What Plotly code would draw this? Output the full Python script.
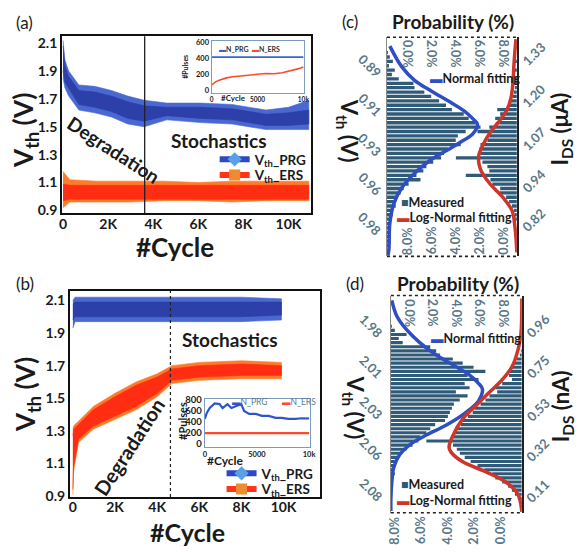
import plotly.graph_objects as go

W, H = 580, 552
FONT = "Lato"

# ---------------- Panel (a): Vth vs cycle (envelopes) ----------------
a_prg_cycle = [0, 80, 250, 700, 1400, 2150, 2870, 3600, 4600, 6100, 7500, 9000, 10000, 10900]
a_prg_hi    = [2.12, 1.98, 1.90, 1.80, 1.79, 1.76, 1.72, 1.69, 1.67, 1.67, 1.66, 1.62, 1.64, 1.69]
a_prg_lo    = [1.85, 1.78, 1.72, 1.62, 1.60, 1.57, 1.52, 1.50, 1.55, 1.53, 1.52, 1.48, 1.48, 1.48]
a_prg_chi   = [2.08, 1.94, 1.86, 1.76, 1.75, 1.72, 1.68, 1.65, 1.64, 1.64, 1.63, 1.59, 1.60, 1.62]
a_prg_clo   = [1.90, 1.82, 1.77, 1.66, 1.64, 1.61, 1.56, 1.54, 1.58, 1.56, 1.55, 1.51, 1.51, 1.52]

a_ers_cycle = [0, 300, 1500, 3000, 4500, 6000, 7500, 9000, 10900]
a_ers_hi    = [1.18, 1.12, 1.11, 1.11, 1.11, 1.10, 1.11, 1.11, 1.11]
a_ers_lo    = [0.92, 0.96, 0.96, 0.96, 0.97, 0.97, 0.96, 0.97, 0.97]
a_ers_chi   = [1.09, 1.08, 1.08, 1.08, 1.08, 1.08, 1.08, 1.08, 1.08]
a_ers_clo   = [0.97, 0.98, 0.98, 0.98, 0.98, 0.98, 0.98, 0.98, 0.98]
a_boundary = 3620

a_ins_cycle = [0, 400, 900, 1600, 2300, 3200, 4100, 5000, 5900, 6800, 7700, 8300, 8800, 9500, 10000]
a_ins_ers   = [71, 110, 133, 160, 175, 188, 194, 205, 215, 212, 224, 240, 256, 276, 297]
a_ins_prg_cycle = [0, 10000]
a_ins_prg   = [420, 420]

# ---------------- Panel (b) ----------------
b_prg_cycle = [0, 100, 2000, 4000, 6000, 8000, 9900]
b_prg_hi    = [2.10, 2.12, 2.12, 2.12, 2.12, 2.12, 2.11]
b_prg_lo    = [1.93, 1.97, 1.97, 1.97, 1.97, 1.97, 1.98]
b_prg_chi   = [2.08, 2.09, 2.09, 2.09, 2.09, 2.09, 2.09]
b_prg_clo   = [1.98, 2.00, 2.00, 2.00, 2.00, 2.00, 2.01]

b_ers_cycle = [0, 30, 270, 970, 2000, 3000, 4000, 4700, 6000, 8000, 9900]
b_ers_hi    = [1.31, 1.33, 1.36, 1.45, 1.53, 1.60, 1.65, 1.70, 1.72, 1.73, 1.72]
b_ers_lo    = [0.91, 1.05, 1.23, 1.31, 1.37, 1.43, 1.51, 1.59, 1.61, 1.62, 1.62]
b_ers_chi   = [1.27, 1.31, 1.34, 1.43, 1.51, 1.58, 1.63, 1.68, 1.70, 1.71, 1.70]
b_ers_clo   = [0.94, 1.08, 1.25, 1.33, 1.39, 1.45, 1.53, 1.61, 1.63, 1.64, 1.64]
b_boundary = 4630

b_ins_cycle = [0, 190, 470, 940, 1420, 1700, 2170, 2550, 3020, 3490, 3770, 4250, 4900,
               5470, 6130, 6790, 7360, 8020, 8680, 9300, 10000]
b_ins_prg   = [460, 566, 655, 740, 726, 655, 726, 655, 691, 726, 602, 549, 549,
               513, 513, 478, 478, 460, 460, 470, 465]
b_ins_ers_cycle = [0, 10000]
b_ins_ers   = [200, 200]

# ---------------- Panel (c): histograms (%), Vth bins ----------------
c_vth_bins = [round(0.8725 + 0.0025 * i, 4) for i in range(50)]
c_vth_prob = [0, 0, 0, 0.08, 0.24, 0.49, 0.16, 0.65, 0.41, 0.98,
              2.20, 2.29, 3.10, 3.67, 4.33, 4.90, 5.39, 6.37, 6.78, 7.35,
              7.76, 6.53, 5.88, 5.71, 6.12, 5.06, 4.73, 4.49, 3.84, 3.27,
              3.02, 2.45, 2.78, 1.80, 1.39, 1.14, 0.82, 0.65, 0.73, 0.41,
              0.49, 0.24, 0.33, 0.16, 0.24, 0.08, 0.16, 0.08, 0, 0]
c_ids_prob = [0, 0, 0, 0, 0, 0.08, 0, 0.08, 0, 0.16,
              0.08, 0.16, 0.24, 0.33, 0.49, 0.65, 1.63, 1.39, 1.80, 1.47,
              2.29, 3.27, 2.29, 2.45, 3.02, 3.10, 3.02, 5.06, 2.86, 2.45,
              2.29, 4.24, 2.20, 2.04, 1.39, 1.47, 0.90, 0.65, 0.41, 0.24,
              0.16, 0.08, 0, 0, 0, 0, 0, 0, 0, 0]
c_norm_vth  = [0.8763, 0.8880, 0.8958, 0.9019, 0.9075, 0.9131, 0.9181, 0.9209, 0.9265,
               0.9310, 0.9354, 0.9410, 0.9488, 0.9572, 0.9661, 0.9773, 0.9923, 0.9957]
c_norm_prob = [0.24, 1.22, 2.29, 3.67, 5.06, 6.37, 7.18, 7.51, 7.10,
               6.12, 5.06, 3.67, 2.29, 1.22, 0.57, 0.24, 0.16, 0.08]
c_logn_ids  = [1.375, 1.300, 1.240, 1.195, 1.159, 1.120, 1.090, 1.054, 1.015,
               0.976, 0.934, 0.889, 0.850, 0.799, 0.721]
c_logn_prob = [0.08, 0.24, 0.33, 0.49, 0.82, 1.55, 2.20, 2.78, 3.18,
               3.02, 2.29, 1.14, 0.41, 0.16, 0.0]
c_vth_tickvals = [0.8875, 0.91, 0.9325, 0.955, 0.9775]
c_vth_ticktext = ["0.89", "0.91", "0.93", "0.96", "0.98"]
c_ids_ticks = [1.33, 1.20, 1.07, 0.94, 0.82]

# ---------------- Panel (d) ----------------
d_vth_bins = [round(1.965 + 0.0025 * i, 4) for i in range(53)]
d_vth_prob = [0, 0, 0, 0, 0, 0, 0, 0.08, 0.34, 1.34,
              0.67, 1.01, 3.36, 3.87, 4.20, 5.29, 6.13, 7.06, 8.07, 6.55,
              7.48, 6.30, 6.72, 5.55, 6.55, 5.88, 5.38, 5.21, 5.04, 4.87,
              4.62, 3.78, 3.36, 3.03, 2.52, 2.35, 1.85, 1.34, 0.84, 0.67,
              0.50, 0.42, 0.25, 0.34, 0.17, 0.17, 0.08, 0.08, 0, 0.08,
              0, 0, 0]
d_ids_prob = [0, 0, 0, 0, 0, 0, 0, 0, 0, 0,
              0, 0, 0, 0.07, 0.15, 0.37, 0.60, 0.75, 0.90, 0.97,
              0.75, 1.49, 2.01, 1.87, 2.46, 2.76, 3.13, 3.58, 3.73, 4.10,
              4.48, 4.63, 4.93, 5.22, 5.37, 7.24, 5.22, 4.93, 4.70, 4.33,
              3.88, 3.36, 2.84, 2.24, 2.01, 1.49, 1.04, 0.75, 0.52, 0.30,
              0.15, 0.07, 0]
d_norm_vth  = [1.9667, 1.9762, 1.9846, 1.9923, 2.0000, 2.0060, 2.0119, 2.0173, 2.0209, 2.0280,
               2.0352, 2.0429, 2.0488, 2.0548, 2.0607, 2.0685, 2.0774, 2.0875, 2.0952]
d_norm_prob = [0.08, 0.50, 1.34, 2.44, 3.87, 5.29, 6.64, 7.48, 7.82, 7.48,
               6.39, 4.71, 3.03, 1.60, 0.76, 0.25, 0.08, 0.0, 0.0]
d_logn_ids  = [1.101, 0.915, 0.834, 0.749, 0.683, 0.613, 0.548, 0.482, 0.397,
               0.336, 0.311, 0.261, 0.211, 0.160, 0.095, 0.004]
d_logn_prob = [0, 0.07, 0.30, 0.75, 1.49, 2.54, 3.51, 4.48, 5.22,
               5.52, 5.37, 4.48, 2.76, 1.27, 0.30, 0]
d_vth_tickvals = [1.9825, 2.0075, 2.0325, 2.0575, 2.0825]
d_vth_ticktext = ["1.98", "2.01", "2.03", "2.06", "2.08"]
d_ids_ticks = [0.96, 0.75, 0.53, 0.32, 0.11]

prob_tickvals = [0, 2, 4, 6, 8]
prob_ticktext = ["0.0%", "2.0%", "4.0%", "6.0%", "8.0%"]
cyc_tickvals = [0, 2000, 4000, 6000, 8000, 10000]
cyc_ticktext = ["0", "2K", "4K", "6K", "8K", "10K"]
vth_tickvals = [0.9, 1.1, 1.3, 1.5, 1.7, 1.9, 2.1]

# ---------------- colours ----------------
BLUE_OUT, BLUE_IN = "#4a68d2", "#2d3fa8"
RED_OUT, RED_IN = "#ff7a2a", "#ff2d12"
HIST = "#2f5b78"
FIT_BLUE, FIT_RED = "#2e4fc4", "#d0352a"
TICKC = "#5a7888"


def dx(a, b):
    return [a / W, b / W]


def dy(top, bottom):
    return [1 - bottom / H, 1 - top / H]


def band(xs, hi, lo, color, xa, ya):
    return go.Scatter(x=xs + xs[::-1], y=hi + lo[::-1], fill="toself", fillcolor=color,
                      mode="lines", line=dict(width=0.6, color=color), hoverinfo="skip",
                      showlegend=False, xaxis=xa, yaxis=ya)


fig = go.Figure()

# (a)
fig.add_trace(band(a_prg_cycle, a_prg_hi, a_prg_lo, BLUE_OUT, "x", "y"))
fig.add_trace(band(a_prg_cycle, a_prg_chi, a_prg_clo, BLUE_IN, "x", "y"))
fig.add_trace(band(a_ers_cycle, a_ers_hi, a_ers_lo, RED_OUT, "x", "y"))
fig.add_trace(band(a_ers_cycle, a_ers_chi, a_ers_clo, RED_IN, "x", "y"))
fig.add_trace(go.Scatter(x=[None], y=[None], mode="lines+markers", name="V<sub>th</sub>_PRG",
                         line=dict(color="#2d48c0", width=6),
                         marker=dict(symbol="diamond", size=11, color="#58a0e8"),
                         legend="legend", xaxis="x", yaxis="y"))
fig.add_trace(go.Scatter(x=[None], y=[None], mode="lines+markers", name="V<sub>th</sub>_ERS",
                         line=dict(color="#ff3418", width=6),
                         marker=dict(symbol="square", size=11, color="#f08a30"),
                         legend="legend9", xaxis="x", yaxis="y"))
# (a) inset
fig.add_trace(go.Scatter(x=a_ins_prg_cycle, y=a_ins_prg, mode="lines", name="N_PRG",
                         line=dict(color="#3a64d0", width=1.6), showlegend=False,
                         xaxis="x2", yaxis="y2"))
fig.add_trace(go.Scatter(x=a_ins_cycle, y=a_ins_ers, mode="lines", name="N_ERS",
                         line=dict(color="#ff4a2a", width=1.6), showlegend=False,
                         xaxis="x2", yaxis="y2"))

# (b)
fig.add_trace(band(b_prg_cycle, b_prg_hi, b_prg_lo, BLUE_OUT, "x3", "y3"))
fig.add_trace(band(b_prg_cycle, b_prg_chi, b_prg_clo, BLUE_IN, "x3", "y3"))
fig.add_trace(band(b_ers_cycle, b_ers_hi, b_ers_lo, RED_OUT, "x3", "y3"))
fig.add_trace(band(b_ers_cycle, b_ers_chi, b_ers_clo, RED_IN, "x3", "y3"))
fig.add_trace(go.Scatter(x=[None], y=[None], mode="lines+markers", name="V<sub>th</sub>_PRG",
                         line=dict(color="#2d48c0", width=6),
                         marker=dict(symbol="diamond", size=11, color="#58a0e8"),
                         legend="legend3", xaxis="x3", yaxis="y3"))
fig.add_trace(go.Scatter(x=[None], y=[None], mode="lines+markers", name="V<sub>th</sub>_ERS",
                         line=dict(color="#ff3418", width=6),
                         marker=dict(symbol="square", size=11, color="#f08a30"),
                         legend="legend10", xaxis="x3", yaxis="y3"))
# (b) inset
fig.add_trace(go.Scatter(x=b_ins_cycle, y=b_ins_prg, mode="lines", name="N_PRG",
                         line=dict(color="#2f55c8", width=2.2), showlegend=False,
                         xaxis="x4", yaxis="y4"))
fig.add_trace(go.Scatter(x=b_ins_ers_cycle, y=b_ins_ers, mode="lines", name="N_ERS",
                         line=dict(color="#ff4a2a", width=2.2), showlegend=False,
                         xaxis="x4", yaxis="y4"))

# (c)
fig.add_trace(go.Bar(x=c_vth_prob, y=c_vth_bins, orientation="h", width=0.0019,
                     marker=dict(color=HIST, line=dict(width=0)), name="Measured",
                     showlegend=False, xaxis="x5", yaxis="y5"))
fig.add_trace(go.Bar(x=c_ids_prob, y=c_vth_bins, orientation="h", width=0.0019,
                     marker=dict(color=HIST, line=dict(width=0)), showlegend=False,
                     xaxis="x6", yaxis="y5"))
fig.add_trace(go.Scatter(x=c_norm_prob, y=c_norm_vth, mode="lines", line_shape="spline",
                         line=dict(color=FIT_BLUE, width=3.5), name="Normal fitting",
                         showlegend=False, xaxis="x5", yaxis="y5"))
fig.add_trace(go.Scatter(x=c_logn_prob, y=c_logn_ids, mode="lines", line_shape="spline",
                         line=dict(color=FIT_RED, width=3.5), name="Log-Normal fitting",
                         showlegend=False, xaxis="x6", yaxis="y6"))

# (d)
fig.add_trace(go.Bar(x=d_vth_prob, y=d_vth_bins, orientation="h", width=0.0019,
                     marker=dict(color=HIST, line=dict(width=0)), name="Measured",
                     showlegend=False, xaxis="x7", yaxis="y7"))
fig.add_trace(go.Bar(x=d_ids_prob, y=d_vth_bins, orientation="h", width=0.0019,
                     marker=dict(color=HIST, line=dict(width=0)), showlegend=False,
                     xaxis="x8", yaxis="y7"))
fig.add_trace(go.Scatter(x=d_norm_prob, y=d_norm_vth, mode="lines", line_shape="spline",
                         line=dict(color=FIT_BLUE, width=3.5), name="Normal fitting",
                         showlegend=False, xaxis="x7", yaxis="y7"))
fig.add_trace(go.Scatter(x=d_logn_prob, y=d_logn_ids, mode="lines", line_shape="spline",
                         line=dict(color=FIT_RED, width=3.5), name="Log-Normal fitting",
                         showlegend=False, xaxis="x8", yaxis="y8"))

bold = lambda s, c="#1a1a1a": dict(family=FONT, size=s, color=c, weight="bold")

common = dict(showgrid=False, zeroline=False, ticks="", ticklabeloverflow="allow")
main_ax = dict(common, showline=True, mirror=True, linecolor="#111", linewidth=2,
               tickfont=bold(14))
ins_ax = dict(common, showline=True, mirror=True, linecolor="#7d9bbd", linewidth=1.3)
hist_ax = dict(common, showticklabels=False)


def leg(x, y):
    return dict(x=x / W, y=1 - y / H, xanchor="left", yanchor="middle",
                bgcolor="rgba(0,0,0,0)", font=bold(13.5), borderwidth=0)


layout = dict(
    width=W, height=H, margin=dict(l=0, r=0, t=0, b=0), autosize=False,
    paper_bgcolor="white", plot_bgcolor="rgba(0,0,0,0)",
    font=dict(family=FONT, color="#1a1a1a"), barmode="overlay",
    # (a)
    xaxis=dict(main_ax, domain=dx(60, 313), anchor="y", range=[-44, 11004],
               tickvals=cyc_tickvals, ticktext=cyc_ticktext, ticklabelstandoff=-3),
    yaxis=dict(main_ax, domain=dy(32, 213), anchor="x", range=[0.879, 2.149],
               tickvals=vth_tickvals, tickformat=".1f"),
    xaxis2=dict(ins_ax, domain=dx(212, 306), anchor="y2", range=[0, 10100],
                tickvals=[0, 5000, 10000], tickfont=bold(6.5)),
    yaxis2=dict(ins_ax, domain=dy(37, 90), anchor="x2", range=[-30, 620],
                tickvals=[0, 200, 400, 600], tickfont=bold(7.5)),
    # (b)
    xaxis3=dict(main_ax, domain=dx(68, 322), anchor="y3", range=[-140, 11730],
                tickvals=cyc_tickvals, ticktext=cyc_ticktext, ticklabelstandoff=-4),
    yaxis3=dict(main_ax, domain=dy(292, 503), anchor="x3", range=[0.894, 2.16],
                tickvals=vth_tickvals, tickformat=".1f"),
    xaxis4=dict(ins_ax, domain=dx(205, 312), anchor="y4", range=[0, 10100],
                tickvals=[0, 5000, 10000], tickfont=bold(7.5)),
    yaxis4=dict(ins_ax, domain=dy(403, 452), anchor="x4", range=[-55, 815],
                tickvals=[0, 200, 400, 600, 800], tickfont=bold(9.5)),
    # (c)
    xaxis5=dict(hist_ax, domain=dx(390, 522), anchor="y5", side="top", range=[0, 10.78]),
    yaxis5=dict(hist_ax, domain=dy(33, 257), anchor="x5", range=[0.99625, 0.87125],
                showline=True, linecolor="#8a8a8a", linewidth=1),
    xaxis6=dict(hist_ax, overlaying="x5", anchor="y5", side="bottom", range=[10.78, 0]),
    yaxis6=dict(hist_ax, overlaying="y5", anchor="x5", side="right", range=[0.709, 1.381],
                showline=True, linecolor="#222", linewidth=1.5),
    # (d)
    xaxis7=dict(hist_ax, domain=dx(394, 527), anchor="y7", side="top", range=[0, 11.18]),
    yaxis7=dict(hist_ax, domain=dy(297, 519), anchor="x7", range=[2.09625, 1.96375],
                showline=True, linecolor="#8a8a8a", linewidth=1),
    xaxis8=dict(hist_ax, overlaying="x7", anchor="y7", side="bottom", range=[9.93, 0]),
    yaxis8=dict(hist_ax, overlaying="y7", anchor="x7", side="right", range=[-0.0007, 1.116],
                showline=True, linecolor="#222", linewidth=1.5),
    # legends (one item each, placed where the reference shows them)
    legend=leg(215, 158),
    legend9=leg(215, 174),
    legend3=leg(222, 479),
    legend10=leg(222, 495),
)
fig.update_layout(**layout)

# boundary lines and dashed frames
fig.add_shape(type="line", xref="x", yref="y domain", x0=a_boundary, x1=a_boundary, y0=0, y1=1,
              line=dict(color="#222", width=1.3))
fig.add_shape(type="line", xref="x3", yref="y3 domain", x0=b_boundary, x1=b_boundary, y0=0, y1=1,
              line=dict(color="#222", width=1.2, dash="dot"))
for xr, yr in (("x5", "y5"), ("x7", "y7")):
    for yy in (0, 1):
        fig.add_shape(type="line", xref=f"{xr} domain", yref=f"{yr} domain",
                      x0=0, x1=1, y0=yy, y1=yy, line=dict(color="#222", width=1.6, dash="dot"))


def ann(text, x, y, size, angle=0, weight="bold", color="#1a1a1a", xanchor="center"):
    fig.add_annotation(text=text, x=x / W, y=1 - y / H, xref="paper", yref="paper",
                       showarrow=False, textangle=angle, xanchor=xanchor, yanchor="middle",
                       font=dict(family=FONT, size=size, color=color, weight=weight))


def tick_ann(text, x, y, xref, yref, angle, xshift=0, size=12.5):
    fig.add_annotation(text=text, x=x, y=y, xref=xref, yref=yref, showarrow=False,
                       textangle=angle, xshift=xshift, xanchor="center", yanchor="middle",
                       font=bold(size, TICKC))


def swatch(glyph, color):
    return f"<span style='color:{color}'>{glyph}</span>"


# rotated tick labels of the probability panels, placed on their own axes
for v, t in zip(prob_tickvals, prob_ticktext):
    tick_ann(t, v, 1 - 50 / H, "x5", "paper", 90, xshift=20)
    tick_ann(t, v, 1 - 241 / H, "x6", "paper", -90, xshift=-13)
    tick_ann(t, v, 1 - 315 / H, "x7", "paper", 90, xshift=19)
    tick_ann(t, v, 1 - 537 / H, "x8", "paper", -90, xshift=-22)
for v, t in zip(c_vth_tickvals, c_vth_ticktext):
    tick_ann(t, 373 / W, v, "paper", "y5", 45, size=13)
for v in c_ids_ticks:
    tick_ann(f"{v:.2f}", 539 / W, v, "paper", "y6", -45, size=13)
for v, t in zip(d_vth_tickvals, d_vth_ticktext):
    tick_ann(t, 374 / W, v, "paper", "y7", 45, size=13)
for v in d_ids_ticks:
    tick_ann(f"{v:.2f}", 543 / W, v, "paper", "y8", -45, size=13)

ann("(a)", 22, 18, 17, weight="normal")
ann("(b)", 22, 285, 17, weight="normal")
ann("(c)", 352, 17, 17, weight="normal")
ann("(d)", 358, 285, 17, weight="normal")
ann("V<sub>th</sub> (V)", 22, 128, 26, angle=-90)
ann("V<sub>th</sub> (V)", 24, 398, 26, angle=-90)
ann("#Cycle", 175, 247, 26)
ann("#Cycle", 187, 539, 25)
ann("Degradation", 112, 148, 19, angle=33)
ann("Degradation", 128, 452, 20, angle=-57)
ann("Stochastics", 219, 139, 19)
ann("Stochastics", 231, 342, 19)
ann("#Pulses", 185, 63, 7, angle=-90)
ann("#Cycle", 234, 95, 8)
ann("#Pulses", 183, 425, 11, angle=-90)
ann("#Cycle", 226, 466, 12)
ann("Probability (%)", 457, 17, 19)
ann("Probability (%)", 462, 285, 19)
ann("V<sub>th</sub> (V)", 350, 128, 22, angle=90)
ann("I<sub>DS</sub> (μA)", 567, 127, 22, angle=-90)
ann("V<sub>th</sub> (V)", 356, 412, 22, angle=90)
ann("I<sub>DS</sub> (nA)", 568, 410, 22, angle=-90)

# small legends drawn as text with coloured swatches
ann(swatch("▬", "#3a64d0") + "N_PRG  " + swatch("▬", "#ff4a2a") + "N_ERS", 217, 45, 7,
    color="#333", xanchor="left")
ann(swatch("▬", "#2f55c8") + "N_PRG", 231, 406, 8.5, color="#5b7b9a", weight="normal",
    xanchor="left")
ann(swatch("▬", "#ff4a2a") + "N_ERS", 281, 406, 8.5, color="#5b7b9a", weight="normal",
    xanchor="left")
ann(swatch("▬", FIT_BLUE) + "Normal fitting", 432, 75, 12.5, xanchor="left")
ann(swatch("■", HIST) + "Measured", 402, 202, 12.5, xanchor="left")
ann(swatch("▬", FIT_RED) + "Log-Normal fitting", 398, 217, 12.5, xanchor="left")
ann(swatch("▬", FIT_BLUE) + "Normal fitting", 433, 341, 12.5, xanchor="left")
ann(swatch("■", HIST) + "Measured", 402, 490, 12.5, xanchor="left")
ann(swatch("▬", FIT_RED) + "Log-Normal fitting", 398, 507, 12.5, xanchor="left")

fig.write_html(
    "out.html",
    config={"displayModeBar": False},
    post_script="document.body.style.margin='0px';"
                "document.documentElement.style.overflow='hidden';"
                "document.body.style.overflow='hidden';",
)
